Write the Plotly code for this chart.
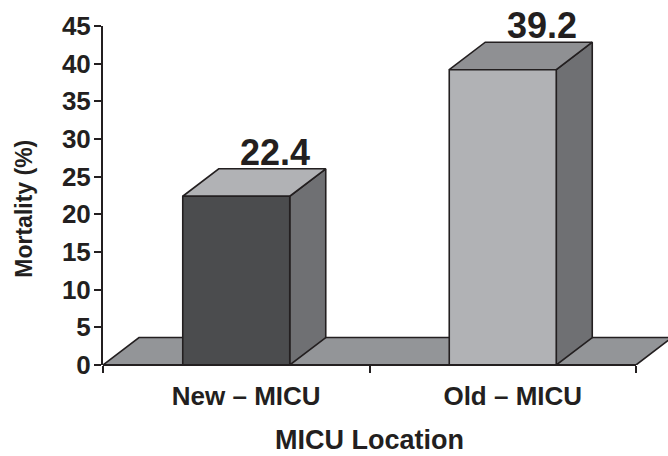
import plotly.graph_objects as go

categories = ["New \u2013 MICU", "Old \u2013 MICU"]
values = [22.4, 39.2]
y_ticks = list(range(0, 50, 5))
front_colors = ["#4b4c4e", "#b1b2b5"]
top_colors = ["#b1b2b5", "#8f9093"]
side_color = "#6f7073"
floor_color = "#939598"
ink = "#231f20"
FONT = "Liberation Sans"

W, H = 668, 456
L, T, B = 103, 26, 90.5
px_x = (636 - L) / 2            # pixels per x unit
px_y = (H - T - B) / 45         # pixels per y unit
x_max = (W - L) / px_x          # axis reaches the page edge so the floor is not clipped
dx = 36 / px_x                  # depth offset in x units
dy = 27.5 / px_y                # depth offset in y units
bar_w = 107 / px_x
label_shift = 10 / px_x         # category labels sit right of the bar centres


def poly(xs, ys, fill):
    return go.Scatter(x=xs + xs[:1], y=ys + ys[:1], mode="lines", fill="toself",
                      fillcolor=fill, line=dict(color=ink, width=1.6),
                      hoverinfo="skip", showlegend=False)


fig = go.Figure()
fig.add_trace(poly([0, 2, 2 + dx, dx], [0, 0, dy, dy], floor_color))

for i, v in enumerate(values):
    x0 = i + 0.5 - bar_w / 2
    x1 = i + 0.5 + bar_w / 2
    fig.add_trace(poly([x1, x1 + dx, x1 + dx, x1], [0, dy, v + dy, v], side_color))
    fig.add_trace(poly([x0, x1, x1 + dx, x0 + dx], [v, v, v + dy, v + dy], top_colors[i]))
    fig.add_trace(poly([x0, x1, x1, x0], [0, 0, v, v], front_colors[i]))
    fig.add_annotation(x=i + 0.5 + dx + 3 / px_x, y=v + dy, text=f"<b>{v}</b>", showarrow=False,
                       yanchor="bottom", yshift=-6, xanchor="center",
                       font=dict(family=FONT, size=36, color=ink))

# x axis baseline stops at the last category boundary
fig.add_shape(type="line", xref="x", yref="paper", x0=0, x1=2, y0=0, y1=0,
              line=dict(color=ink, width=2.2), layer="above")

fig.add_annotation(xref="paper", yref="paper", x=(369 - L) / (W - L), y=(H - B - 441) / (H - T - B),
                   text="<b>MICU Location</b>", showarrow=False, xanchor="center", yanchor="middle",
                   font=dict(family=FONT, size=27, color=ink))
fig.add_annotation(xref="paper", yref="paper", x=(24 - L) / (W - L), y=(H - B - 209) / (H - T - B),
                   text="<b>Mortality (%)</b>", showarrow=False, xanchor="center", yanchor="middle",
                   textangle=-90, font=dict(family=FONT, size=23, color=ink))

fig.update_layout(
    width=W, height=H, autosize=False,
    margin=dict(l=L, r=0, t=T, b=B, pad=0),
    paper_bgcolor="white", plot_bgcolor="white", showlegend=False,
    font=dict(family=FONT, color=ink),
    xaxis=dict(
        range=[0, x_max], showgrid=False, zeroline=False, showline=False, automargin=False,
        tickvals=[0.5 + label_shift, 1.5 + label_shift], ticktext=[f"<b>{c}</b>" for c in categories],
        ticks="outside", ticklen=8, tickcolor="rgba(0,0,0,0)", tickwidth=1,
        tickfont=dict(family=FONT, size=26, color=ink),
        minor=dict(tickvals=[0, 1, 2], ticks="outside", ticklen=7, tickcolor=ink, tickwidth=1.5),
    ),
    yaxis=dict(
        range=[0, 45], showgrid=False, zeroline=False, showline=True, automargin=False,
        linecolor=ink, linewidth=2,
        tickvals=y_ticks, ticktext=[f"<b>{t}</b>" for t in y_ticks],
        ticks="outside", ticklen=7, tickcolor=ink, tickwidth=1.5, ticklabelstandoff=-2,
        tickfont=dict(family=FONT, size=26, color=ink),
    ),
)

fig.write_html("out.html", config={"displayModeBar": False},
               post_script="document.body.style.margin='0';document.body.style.overflow='hidden';")
